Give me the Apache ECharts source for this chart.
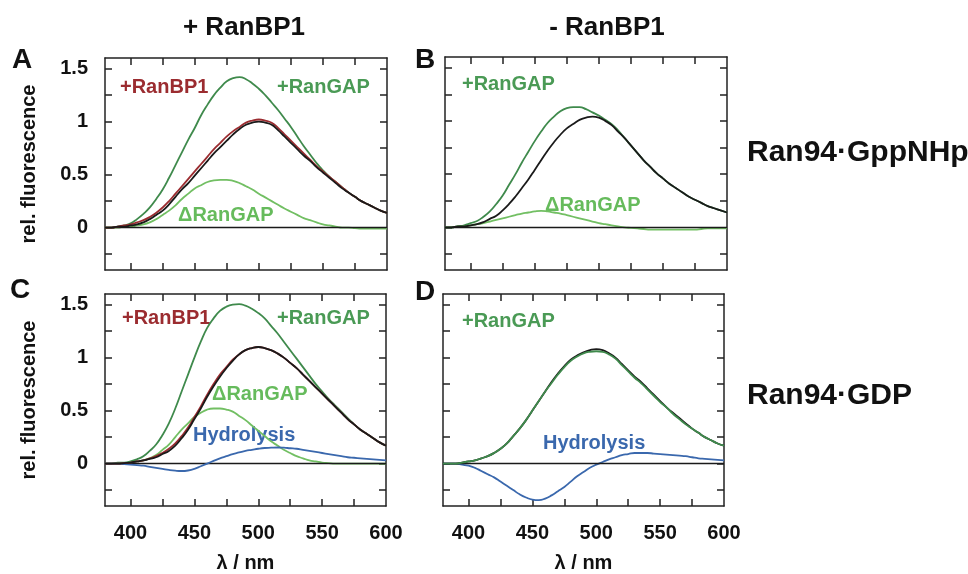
<!DOCTYPE html>
<html>
<head>
<meta charset="utf-8">
<script src="https://cdn.jsdelivr.net/npm/echarts@6/dist/echarts.min.js"></script>
<style>
  html, body { margin: 0; padding: 0; background: #fff; }
  #chart { width: 968px; height: 574px; }
</style>
</head>
<body>
<div id="chart"></div>
<script>
// wavelength grid (nm), 5 nm steps from 380 to 600
const wavelengths = [380, 385, 390, 395, 400, 405, 410, 415, 420, 425, 430, 435, 440, 445, 450, 455, 460, 465, 470, 475, 480, 485, 490, 495, 500, 505, 510, 515, 520, 525, 530, 535, 540, 545, 550, 555, 560, 565, 570, 575, 580, 585, 590, 595, 600];

// A: + RanBP1, Ran94·GppNHp
const aBlack = [0.00, 0.00, 0.01, 0.01, 0.02, 0.03, 0.05, 0.08, 0.12, 0.16, 0.22, 0.29, 0.36, 0.42, 0.49, 0.56, 0.63, 0.70, 0.76, 0.82, 0.88, 0.93, 0.97, 0.99, 1.00, 0.99, 0.97, 0.92, 0.86, 0.80, 0.74, 0.68, 0.63, 0.57, 0.52, 0.47, 0.42, 0.37, 0.33, 0.29, 0.25, 0.22, 0.19, 0.16, 0.14];
const aRanBP1 = [0.00, 0.00, 0.01, 0.02, 0.03, 0.05, 0.07, 0.10, 0.14, 0.19, 0.25, 0.32, 0.39, 0.46, 0.53, 0.60, 0.67, 0.74, 0.80, 0.86, 0.91, 0.95, 0.99, 1.01, 1.02, 1.01, 0.99, 0.94, 0.88, 0.82, 0.76, 0.70, 0.64, 0.58, 0.53, 0.48, 0.43, 0.38, 0.33, 0.29, 0.25, 0.22, 0.19, 0.16, 0.14];
const aRanGAP = [0.00, 0.00, 0.01, 0.02, 0.04, 0.08, 0.13, 0.19, 0.27, 0.36, 0.47, 0.59, 0.71, 0.83, 0.94, 1.06, 1.16, 1.25, 1.32, 1.38, 1.41, 1.42, 1.40, 1.36, 1.31, 1.25, 1.18, 1.11, 1.03, 0.95, 0.86, 0.77, 0.69, 0.61, 0.54, 0.48, 0.43, 0.38, 0.33, 0.29, 0.25, 0.22, 0.19, 0.16, 0.14];
const aDelta = [0.00, 0.00, 0.00, 0.01, 0.01, 0.02, 0.03, 0.05, 0.08, 0.12, 0.16, 0.21, 0.27, 0.32, 0.37, 0.40, 0.43, 0.445, 0.45, 0.45, 0.44, 0.42, 0.39, 0.36, 0.32, 0.285, 0.25, 0.215, 0.18, 0.15, 0.12, 0.09, 0.07, 0.05, 0.03, 0.02, 0.01, 0.00, 0.00, -0.005, -0.01, -0.01, -0.01, -0.01, -0.01];

// B: - RanBP1, Ran94·GppNHp
const bBlack = [0.00, 0.00, 0.01, 0.01, 0.02, 0.03, 0.05, 0.08, 0.11, 0.16, 0.22, 0.29, 0.37, 0.45, 0.54, 0.63, 0.72, 0.80, 0.87, 0.93, 0.97, 1.01, 1.03, 1.04, 1.03, 1.00, 0.96, 0.90, 0.84, 0.77, 0.70, 0.63, 0.57, 0.51, 0.46, 0.41, 0.37, 0.33, 0.29, 0.26, 0.23, 0.20, 0.18, 0.16, 0.14];
const bRanGAP = [0.00, 0.00, 0.01, 0.02, 0.04, 0.06, 0.10, 0.15, 0.22, 0.30, 0.40, 0.50, 0.61, 0.71, 0.81, 0.90, 0.98, 1.04, 1.09, 1.12, 1.13, 1.13, 1.11, 1.08, 1.05, 1.01, 0.97, 0.91, 0.84, 0.77, 0.70, 0.63, 0.57, 0.51, 0.46, 0.41, 0.37, 0.33, 0.29, 0.26, 0.23, 0.20, 0.18, 0.16, 0.14];
const bDelta = [0.00, 0.00, 0.01, 0.01, 0.02, 0.03, 0.04, 0.055, 0.07, 0.085, 0.10, 0.115, 0.13, 0.14, 0.15, 0.155, 0.15, 0.14, 0.13, 0.115, 0.10, 0.085, 0.07, 0.055, 0.04, 0.03, 0.02, 0.01, 0.00, -0.005, -0.01, -0.015, -0.02, -0.02, -0.02, -0.02, -0.02, -0.02, -0.02, -0.02, -0.015, -0.01, -0.01, -0.01, -0.01];

// C: + RanBP1, Ran94·GDP
const cBlack = [0.00, 0.00, 0.00, 0.005, 0.01, 0.02, 0.03, 0.045, 0.06, 0.09, 0.12, 0.17, 0.24, 0.32, 0.42, 0.52, 0.63, 0.73, 0.82, 0.90, 0.97, 1.03, 1.07, 1.09, 1.10, 1.09, 1.07, 1.04, 1.00, 0.95, 0.90, 0.84, 0.78, 0.72, 0.66, 0.60, 0.54, 0.48, 0.42, 0.37, 0.32, 0.28, 0.24, 0.20, 0.17];
const cRanBP1 = [0.00, 0.00, 0.00, 0.005, 0.01, 0.02, 0.03, 0.05, 0.07, 0.10, 0.14, 0.19, 0.26, 0.34, 0.44, 0.54, 0.65, 0.75, 0.84, 0.91, 0.98, 1.03, 1.07, 1.09, 1.10, 1.09, 1.07, 1.04, 1.00, 0.95, 0.90, 0.84, 0.78, 0.72, 0.66, 0.60, 0.54, 0.48, 0.42, 0.37, 0.32, 0.28, 0.24, 0.20, 0.17];
const cRanGAP = [0.00, 0.00, 0.01, 0.01, 0.02, 0.04, 0.07, 0.12, 0.18, 0.27, 0.38, 0.52, 0.68, 0.84, 1.00, 1.15, 1.28, 1.37, 1.44, 1.48, 1.50, 1.505, 1.49, 1.46, 1.42, 1.37, 1.30, 1.23, 1.15, 1.07, 0.99, 0.91, 0.83, 0.75, 0.68, 0.61, 0.55, 0.49, 0.43, 0.37, 0.32, 0.28, 0.24, 0.20, 0.17];
const cDelta = [0.00, 0.00, 0.00, 0.005, 0.01, 0.02, 0.03, 0.05, 0.08, 0.13, 0.18, 0.25, 0.32, 0.38, 0.44, 0.48, 0.51, 0.52, 0.52, 0.51, 0.49, 0.45, 0.41, 0.36, 0.31, 0.26, 0.21, 0.17, 0.13, 0.10, 0.07, 0.05, 0.03, 0.02, 0.01, 0.005, 0.00, 0.00, 0.00, 0.00, 0.00, 0.00, 0.00, 0.00, 0.00];
const cHydrolysis = [0.00, 0.00, 0.00, -0.005, -0.01, -0.015, -0.02, -0.03, -0.04, -0.05, -0.06, -0.067, -0.07, -0.065, -0.05, -0.025, 0.00, 0.025, 0.05, 0.07, 0.09, 0.105, 0.12, 0.13, 0.14, 0.147, 0.15, 0.152, 0.15, 0.145, 0.14, 0.13, 0.12, 0.11, 0.10, 0.09, 0.08, 0.07, 0.06, 0.055, 0.05, 0.045, 0.04, 0.035, 0.03];

// D: - RanBP1, Ran94·GDP
const dBlack = [0.00, 0.00, 0.00, 0.01, 0.02, 0.03, 0.05, 0.07, 0.10, 0.14, 0.19, 0.26, 0.33, 0.41, 0.50, 0.59, 0.68, 0.77, 0.85, 0.92, 0.98, 1.02, 1.05, 1.07, 1.08, 1.07, 1.04, 1.00, 0.94, 0.88, 0.82, 0.77, 0.71, 0.65, 0.59, 0.53, 0.48, 0.43, 0.38, 0.33, 0.29, 0.25, 0.22, 0.19, 0.17];
const dRanGAP = [0.00, 0.00, 0.00, 0.01, 0.02, 0.03, 0.05, 0.07, 0.10, 0.14, 0.19, 0.26, 0.33, 0.41, 0.50, 0.59, 0.68, 0.76, 0.84, 0.91, 0.97, 1.01, 1.04, 1.055, 1.06, 1.055, 1.03, 0.99, 0.93, 0.87, 0.81, 0.76, 0.70, 0.64, 0.58, 0.53, 0.47, 0.42, 0.37, 0.33, 0.29, 0.25, 0.22, 0.19, 0.17];
const dHydrolysis = [0.00, 0.00, 0.00, -0.01, -0.02, -0.04, -0.07, -0.10, -0.13, -0.17, -0.21, -0.25, -0.29, -0.32, -0.34, -0.345, -0.33, -0.30, -0.26, -0.22, -0.17, -0.12, -0.08, -0.04, -0.01, 0.015, 0.04, 0.06, 0.08, 0.09, 0.10, 0.10, 0.10, 0.095, 0.09, 0.085, 0.08, 0.075, 0.07, 0.06, 0.05, 0.045, 0.04, 0.035, 0.03];

// ticks and labels
const xTicks = [400, 425, 450, 475, 500, 525, 550, 575];
const xLabels = [400, 450, 500, 550, 600];
const yTicks = [-0.25, 0, 0.25, 0.5, 0.75, 1, 1.25, 1.5];
const yLabels = [0, 0.5, 1, 1.5];

const FONT = 'Liberation Sans, Arial, Helvetica, sans-serif';
const C_BLACK = '#1a1a1a';
const C_RED = '#9b2c30';
const C_GREEN = '#3f8a4c';
const C_LIGHT = '#72bf63';
const C_BLUE = '#3a68ad';

const pair = (ys) => wavelengths.map((w, i) => [w, ys[i]]);

const panels = [
  { grid: { left: 105, top: 58, width: 282, height: 212 }, yLab: true, xLab: false,
    series: [[aRanGAP, C_GREEN], [aDelta, C_LIGHT], [aRanBP1, C_RED], [aBlack, C_BLACK]] },
  { grid: { left: 445, top: 57, width: 282, height: 213 }, yLab: false, xLab: false,
    series: [[bRanGAP, C_GREEN], [bDelta, C_LIGHT], [bBlack, C_BLACK]] },
  { grid: { left: 105, top: 294, width: 281, height: 212 }, yLab: true, xLab: true,
    series: [[cRanGAP, C_GREEN], [cDelta, C_LIGHT], [cHydrolysis, C_BLUE], [cRanBP1, C_RED], [cBlack, C_BLACK]] },
  { grid: { left: 443, top: 294, width: 281, height: 212 }, yLab: false, xLab: true,
    series: [[dHydrolysis, C_BLUE], [dBlack, C_BLACK], [dRanGAP, C_GREEN]] }
];

const frameLine = { show: true, onZero: false, lineStyle: { color: '#222', width: 1.5 } };
const tickStyle = { color: '#222', width: 1.5 };

const grid = [], xAxis = [], yAxis = [], series = [];
panels.forEach((p, i) => {
  grid.push(p.grid);
  ['bottom', 'top'].forEach((pos) => {
    const main = pos === 'bottom';
    xAxis.push({
      type: 'value', gridIndex: i, position: pos, min: 380, max: 600,
      axisLine: frameLine,
      axisTick: { show: true, inside: true, length: 7, customValues: xTicks, lineStyle: tickStyle },
      axisLabel: { show: main && p.xLab, customValues: xLabels, margin: 17,
        fontFamily: FONT, fontSize: 20, fontWeight: 'bold', color: '#111' },
      splitLine: { show: false },
      name: main && p.xLab ? 'λ / nm' : '', nameLocation: 'middle', nameGap: 47,
      nameTextStyle: { fontFamily: FONT, fontSize: 20, fontWeight: 'bold', color: '#111' }
    });
  });
  ['left', 'right'].forEach((pos) => {
    const main = pos === 'left';
    yAxis.push({
      type: 'value', gridIndex: i, position: pos, min: -0.4, max: 1.6,
      axisLine: frameLine,
      axisTick: { show: true, inside: true, length: 7, customValues: yTicks, lineStyle: tickStyle },
      axisLabel: { show: main && p.yLab, customValues: yLabels, margin: 17,
        fontFamily: FONT, fontSize: 20, fontWeight: 'bold', color: '#111' },
      splitLine: { show: false },
      name: main && p.yLab ? 'rel. fluorescence' : '', nameLocation: 'middle', nameGap: 66,
      nameTextStyle: { fontFamily: FONT, fontSize: 20, fontWeight: 'bold', color: '#111' }
    });
  });
  p.series.forEach(([ys, color], k) => {
    const s = {
      type: 'line', xAxisIndex: i * 2, yAxisIndex: i * 2,
      data: pair(ys), smooth: true, showSymbol: false, silent: true,
      lineStyle: { color: color, width: 1.8 }, z: 3 + k
    };
    if (k === 0) {
      s.markLine = { silent: true, symbol: 'none', label: { show: false },
        lineStyle: { color: C_BLACK, width: 1.3, type: 'solid' },
        data: [{ yAxis: 0 }] };
    }
    series.push(s);
  });
});

const txt = (text, x, y, size, color, align) => ({
  type: 'text', x: x, y: y,
  style: { text: text, fontFamily: FONT, fontSize: size, fontWeight: 'bold',
    fill: color, textAlign: align || 'left', textVerticalAlign: 'middle' }
});

const graphic = [
  txt('+ RanBP1', 244, 28, 26, '#111', 'center'),
  txt('- RanBP1', 607, 28, 26, '#111', 'center'),
  txt('Ran94·GppNHp', 747, 153, 30, '#111'),
  txt('Ran94·GDP', 747, 396, 30, '#111'),
  txt('A', 22, 60, 28, '#111', 'center'),
  txt('B', 425, 60, 28, '#111', 'center'),
  txt('C', 20, 290, 28, '#111', 'center'),
  txt('D', 425, 292, 28, '#111', 'center'),
  // panel A
  txt('+RanBP1', 120, 87, 20, C_RED),
  txt('+RanGAP', 277, 87, 20, '#4a9a55'),
  txt('ΔRanGAP', 178, 215, 20, '#66bb5c'),
  // panel B
  txt('+RanGAP', 462, 84, 20, '#4a9a55'),
  txt('ΔRanGAP', 545, 205, 20, '#66bb5c'),
  // panel C
  txt('+RanBP1', 122, 318, 20, C_RED),
  txt('+RanGAP', 277, 318, 20, '#4a9a55'),
  txt('ΔRanGAP', 212, 394, 20, '#66bb5c'),
  txt('Hydrolysis', 193, 435, 20, C_BLUE),
  // panel D
  txt('+RanGAP', 462, 321, 20, '#4a9a55'),
  txt('Hydrolysis', 543, 443, 20, C_BLUE)
];

const chart = echarts.init(document.getElementById('chart'), null, { renderer: 'canvas' });
chart.setOption({
  animation: false,
  backgroundColor: '#fff',
  grid: grid,
  xAxis: xAxis,
  yAxis: yAxis,
  series: series,
  graphic: graphic
});
</script>
</body>
</html>
